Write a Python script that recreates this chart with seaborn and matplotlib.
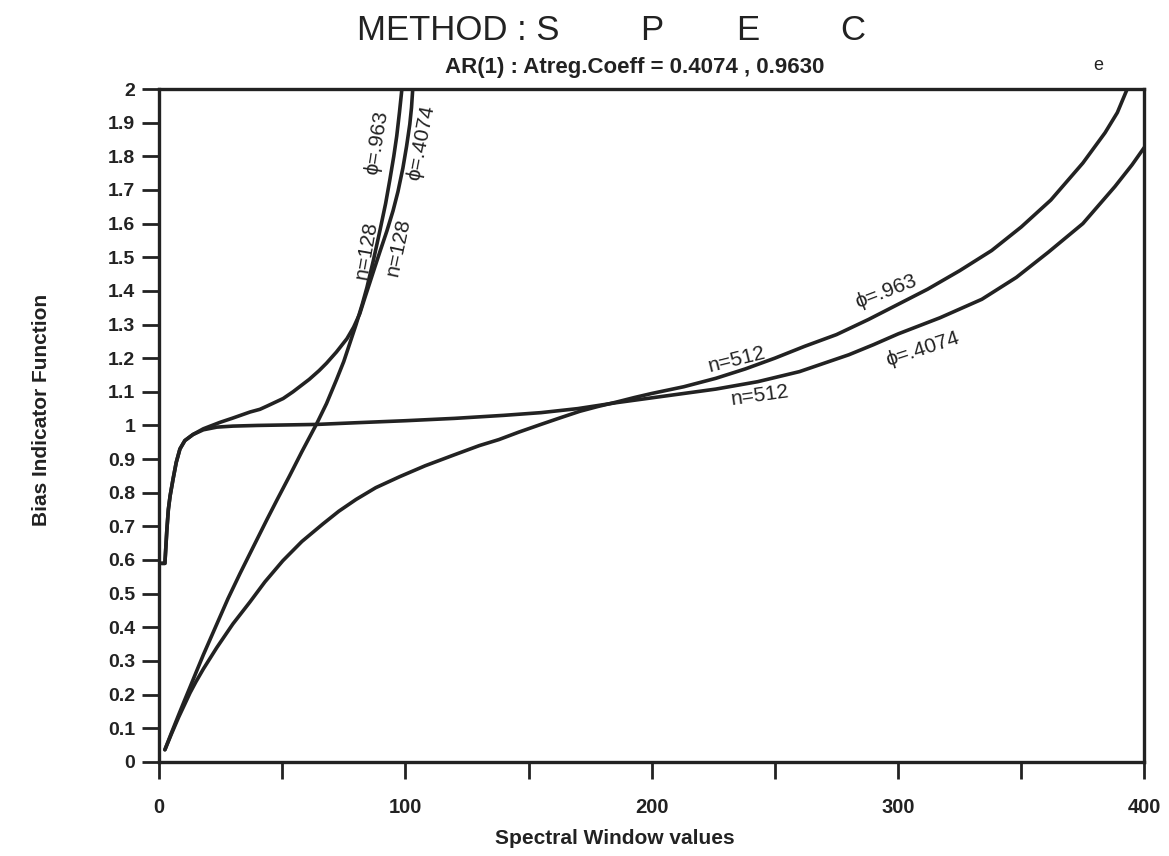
import matplotlib
matplotlib.use("Agg")
import matplotlib.pyplot as plt
import seaborn as sns
import pandas as pd

# ---- data ----
x_n128_p963 = [2.4, 5, 8, 10.5, 12.6, 15, 18, 23.5, 28, 32.9, 38, 43.8, 48, 53, 58, 64, 68, 72, 75,
               77.5, 80, 82.5, 84.4, 87, 89.7, 92, 93.7, 95.3, 96.5, 97.6, 98.6]
y_n128_p963 = [0.036, 0.085, 0.14, 0.185, 0.222, 0.265, 0.318, 0.41, 0.485, 0.56, 0.635, 0.72, 0.78,
               0.85, 0.922, 1.005, 1.065, 1.135, 1.19, 1.245, 1.3, 1.36, 1.41, 1.49, 1.58, 1.66, 1.73,
               1.80, 1.86, 1.93, 2.0]

x_n128_p4074 = [1, 2.4, 2.8, 3.2, 3.8, 4.5, 5.7, 7, 8.5, 10.5, 13.8, 18, 24.7, 30, 37, 41, 44, 50.4,
                54.4, 61, 65, 68, 72, 76.3, 79, 81.5, 83.5, 85.6, 87.5, 89.7, 92.5, 95, 97, 99, 100.5,
                101.8, 102.5, 103]
y_n128_p4074 = [0.59, 0.59, 0.64, 0.69, 0.75, 0.79, 0.84, 0.89, 0.93, 0.955, 0.973, 0.99, 1.009, 1.022,
                1.04, 1.048, 1.058, 1.08, 1.1, 1.137, 1.163, 1.185, 1.218, 1.258, 1.292, 1.332, 1.378,
                1.425, 1.468, 1.517, 1.578, 1.638, 1.695, 1.765, 1.83, 1.895, 1.945, 2.0]

x_n512_p4074 = [1, 2.4, 2.8, 3.2, 3.8, 4.5, 5.7, 7, 8.5, 10.5, 13.8, 18, 23.5, 30, 40, 64, 80, 100,
                120, 140, 155, 170, 186, 200, 213, 226, 243, 260, 270, 280, 290, 300, 317, 334, 348,
                361, 375, 388, 395, 400]
y_n512_p4074 = [0.59, 0.59, 0.64, 0.69, 0.75, 0.79, 0.84, 0.89, 0.93, 0.955, 0.973, 0.987, 0.995,
                0.998, 1.0, 1.003, 1.008, 1.014, 1.021, 1.03, 1.038, 1.05, 1.068, 1.082, 1.095, 1.108,
                1.13, 1.16, 1.185, 1.21, 1.24, 1.272, 1.32, 1.375, 1.44, 1.515, 1.60, 1.71, 1.775, 1.827]

x_n512_p963 = [2.4, 5, 8, 10.5, 12.6, 15, 18, 23.5, 30, 36.9, 43, 50.3, 58, 66.5, 73, 80, 88, 97.8,
               108, 120, 130, 138, 146, 155, 163, 170.8, 178, 186, 193, 200, 213, 226, 238, 250, 262,
               275, 288, 300, 312, 325, 338, 350, 362, 375, 384, 389, 393]
y_n512_p963 = [0.036, 0.082, 0.133, 0.172, 0.205, 0.238, 0.276, 0.34, 0.41, 0.475, 0.535, 0.598, 0.655,
               0.707, 0.745, 0.78, 0.815, 0.848, 0.88, 0.913, 0.94, 0.958, 0.98, 1.003, 1.023, 1.042,
               1.056, 1.07, 1.083, 1.095, 1.115, 1.14, 1.168, 1.2, 1.235, 1.27, 1.315, 1.36, 1.405,
               1.46, 1.52, 1.59, 1.67, 1.78, 1.87, 1.93, 2.0]

y_ticks = [round(0.1 * i, 1) for i in range(21)]
y_tick_labels = ["0", "0.1", "0.2", "0.3", "0.4", "0.5", "0.6", "0.7", "0.8", "0.9", "1",
                 "1.1", "1.2", "1.3", "1.4", "1.5", "1.6", "1.7", "1.8", "1.9", "2"]
x_ticks = [0, 50, 100, 150, 200, 250, 300, 350, 400]
x_tick_labels = ["0", "", "100", "", "200", "", "300", "", "400"]

title_parts = ["METHOD : S", "P", "E", "C"]
subtitle = "AR(1) : Atreg.Coeff = 0.4074 , 0.9630"
x_label = "Spectral Window values"
y_label = "Bias Indicator Function"

# curve labels: (text, x, y, rotation)
curve_labels = [
    ("ϕ=.963", 88.6, 1.84, 81),
    ("ϕ=.4074", 106.5, 1.84, 79),
    ("n=128", 84.0, 1.52, 80),
    ("n=128", 97.2, 1.53, 78),
    ("n=512", 234.5, 1.196, 14),
    ("n=512", 244.0, 1.090, 8),
    ("ϕ=.963", 295.0, 1.398, 21),
    ("ϕ=.4074", 310.0, 1.226, 18),
]

# ---- build long table ----
frames = []
for name, xs, ys in [("n128_963", x_n128_p963, y_n128_p963),
                     ("n128_4074", x_n128_p4074, y_n128_p4074),
                     ("n512_4074", x_n512_p4074, y_n512_p4074),
                     ("n512_963", x_n512_p963, y_n512_p963)]:
    frames.append(pd.DataFrame({"x": xs, "y": ys, "curve": name}))
df = pd.concat(frames, ignore_index=True)

sns.set_theme(style="ticks")
plt.rcParams["font.family"] = ["Liberation Sans", "DejaVu Sans"]

ink = "#222222"
fig = plt.figure(figsize=(11.69, 8.56), dpi=100)
ax = fig.add_axes([0.136, 0.110, 0.843, 0.786])

sns.lineplot(data=df, x="x", y="y", hue="curve", units="curve", estimator=None,
             sort=False, palette=[ink] * 4, linewidth=2.6, legend=False, ax=ax)

ax.set_xlim(0, 400)
ax.set_ylim(0, 2)
ax.set_xticks(x_ticks)
ax.set_xticklabels(x_tick_labels, fontsize=14.5, fontweight="bold", color=ink)
ax.set_yticks(y_ticks)
ax.set_yticklabels(y_tick_labels, fontsize=14, fontweight="bold", color=ink)
ax.tick_params(axis="both", direction="out", length=12, width=2, color=ink)
ax.tick_params(axis="y", pad=5)
ax.tick_params(axis="x", pad=14)
for s in ax.spines.values():
    s.set_linewidth(2.4)
    s.set_color(ink)
ax.set_xlabel("")
ax.set_ylabel("")

fig.text(615 / 1169, 1 - 839 / 856, x_label, ha="center", va="center",
         fontsize=15, fontweight="bold", color=ink)
fig.text(42 / 1169, 1 - 410 / 856, y_label, ha="center", va="center", rotation=90,
         fontsize=15, fontweight="bold", color=ink)

for txt, lx, ly, rot in curve_labels:
    ax.text(lx, ly, txt, rotation=rot, rotation_mode="anchor", ha="center", va="center",
            fontsize=15, color=ink, family=["Liberation Sans", "DejaVu Sans"])

# title with widely spaced letters
fig.text(357 / 1169, 1 - 31 / 856, title_parts[0], ha="left", va="center", fontsize=25, color=ink)
for part, px in zip(title_parts[1:], [652, 748, 853]):
    fig.text(px / 1169, 1 - 31 / 856, part, ha="center", va="center", fontsize=25, color=ink)
fig.text(635 / 1169, 1 - 67 / 856, subtitle, ha="center", va="center", fontsize=16,
         fontweight="bold", color=ink)
fig.text(1098 / 1169, 1 - 65 / 856, "e", ha="center", va="center", fontsize=13, color=ink)

fig.savefig("out.png", dpi=100)
